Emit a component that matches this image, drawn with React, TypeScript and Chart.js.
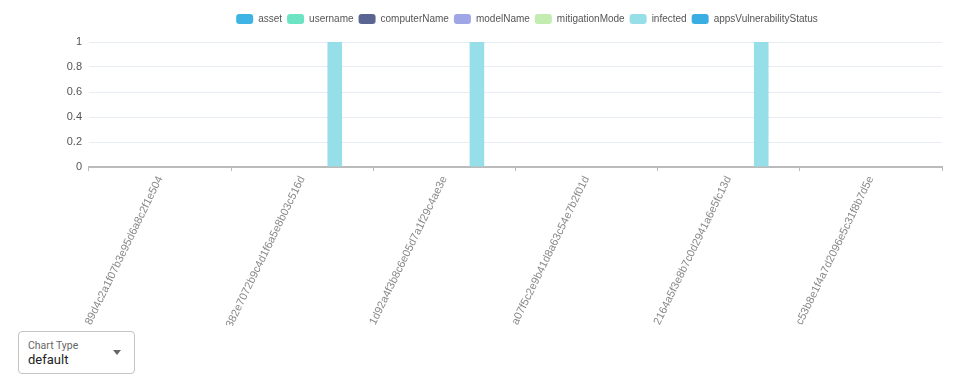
import React, { useEffect, useRef } from "react";
import { Chart, registerables } from "chart.js";

Chart.register(...registerables);

const categories = [
  "89d4c2a1f07b3e95d6a8c2f1e504",
  "382e7072b9c4d1f6a5e8b03c516d",
  "1d92a4f3b8c6e05d7a1f29c4ae3e",
  "a07f5c2e9b41d8a63c54e7b2f01d",
  "2164a5f3e8b7c0d2941a6e5fc13d",
  "c53b8e1f4a7d2096e5c31f8b7d5e",
];

const seriesNames = [
  "asset",
  "username",
  "computerName",
  "modelName",
  "mitigationMode",
  "infected",
  "appsVulnerabilityStatus",
];

const assetValues = [0, 0, 0, 0, 0, 0];
const usernameValues = [0, 0, 0, 0, 0, 0];
const computerNameValues = [0, 0, 0, 0, 0, 0];
const modelNameValues = [0, 0, 0, 0, 0, 0];
const mitigationModeValues = [0, 0, 0, 0, 0, 0];
const infectedValues = [0, 1, 1, 0, 1, 0];
const appsVulnerabilityStatusValues = [0, 0, 0, 0, 0, 0];

const seriesValues = [
  assetValues,
  usernameValues,
  computerNameValues,
  modelNameValues,
  mitigationModeValues,
  infectedValues,
  appsVulnerabilityStatusValues,
];

const seriesColors = [
  "#3fb3e3",
  "#6ce3c3",
  "#5b6592",
  "#9ea6e6",
  "#c2ecb0",
  "#97dfe8",
  "#3aaee2",
];

const yTicks = [0, 0.2, 0.4, 0.6, 0.8, 1];

const FONT = "'Liberation Sans', Arial, sans-serif";

const legendTweak = {
  id: "legendTweak",
  beforeInit(chart: any) {
    const legend = chart.legend;
    if (!legend) return;
    const origFit = legend.fit;
    legend.fit = function () {
      origFit.call(this);
      this.height += 9;
    };
  },
  afterLayout(chart: any) {
    const legend = chart.legend;
    if (!legend) return;
    legend.left += 52;
    legend.right += 52;
    legend.top += 1;
    legend.bottom += 1;
  },
};

export default function App() {
  const canvasRef = useRef<HTMLCanvasElement | null>(null);

  useEffect(() => {
    if (!canvasRef.current) return;
    const chart = new Chart(canvasRef.current, {
      type: "bar",
      plugins: [legendTweak],
      data: {
        labels: categories,
        datasets: seriesNames.map((name, i) => ({
          label: name,
          data: seriesValues[i],
          backgroundColor: seriesColors[i],
          borderColor: seriesColors[i],
          borderWidth: 0,
        })),
      },
      options: {
        animation: false,
        responsive: true,
        maintainAspectRatio: false,
        layout: { padding: { left: 0, right: 24, top: 0, bottom: 0 } },
        plugins: {
          legend: {
            position: "top",
            labels: {
              boxWidth: 17,
              boxHeight: 10,
              useBorderRadius: true,
              borderRadius: 3,
              color: "#555",
              font: { family: FONT, size: 10 },
              padding: 5,
            },
          },
          tooltip: { enabled: false },
        },
        scales: {
          x: {
            grid: {
              display: true,
              drawOnChartArea: false,
              drawTicks: true,
              tickLength: 4,
              color: "#bbb",
            },
            border: { color: "#bbb", width: 2 },
            ticks: {
              color: "#888",
              minRotation: 64,
              maxRotation: 64,
              autoSkip: false,
              font: { family: FONT, size: 11 },
            },
          },
          y: {
            min: 0,
            max: 1,
            afterBuildTicks: (axis: any) => {
              axis.ticks = yTicks.map((v) => ({ value: v }));
            },
            afterFit: (axis: any) => {
              axis.width = 81;
            },
            grid: { color: "#e8ecf4", drawTicks: false },
            border: { display: false },
            ticks: {
              color: "#555",
              padding: 7,
              callback: (v: any) => String(Number(v)),
              font: { family: FONT, size: 11 },
            },
          },
        },
      },
    });
    return () => chart.destroy();
  }, []);

  return (
    <div style={{ fontFamily: "Roboto, 'Liberation Sans', Arial, sans-serif" }}>
      <div style={{ position: "relative", width: "100%", height: 318 }}>
        <canvas ref={canvasRef} />
      </div>
      <div
        style={{
          position: "relative",
          marginLeft: 10,
          marginTop: 5,
          width: 117,
          height: 43,
          border: "1px solid #c4c4c4",
          borderRadius: 4,
          boxSizing: "border-box",
        }}
      >
        <div
          style={{
            position: "absolute",
            left: 9,
            top: 7,
            fontSize: 10.5,
            color: "#666",
          }}
        >
          Chart Type
        </div>
        <div
          style={{
            position: "absolute",
            left: 9,
            top: 20,
            fontSize: 13,
            color: "#222",
          }}
        >
          default
        </div>
        <div
          style={{
            position: "absolute",
            right: 13,
            top: 18,
            width: 0,
            height: 0,
            borderLeft: "4.5px solid transparent",
            borderRight: "4.5px solid transparent",
            borderTop: "5px solid #666",
          }}
        />
      </div>
    </div>
  );
}
